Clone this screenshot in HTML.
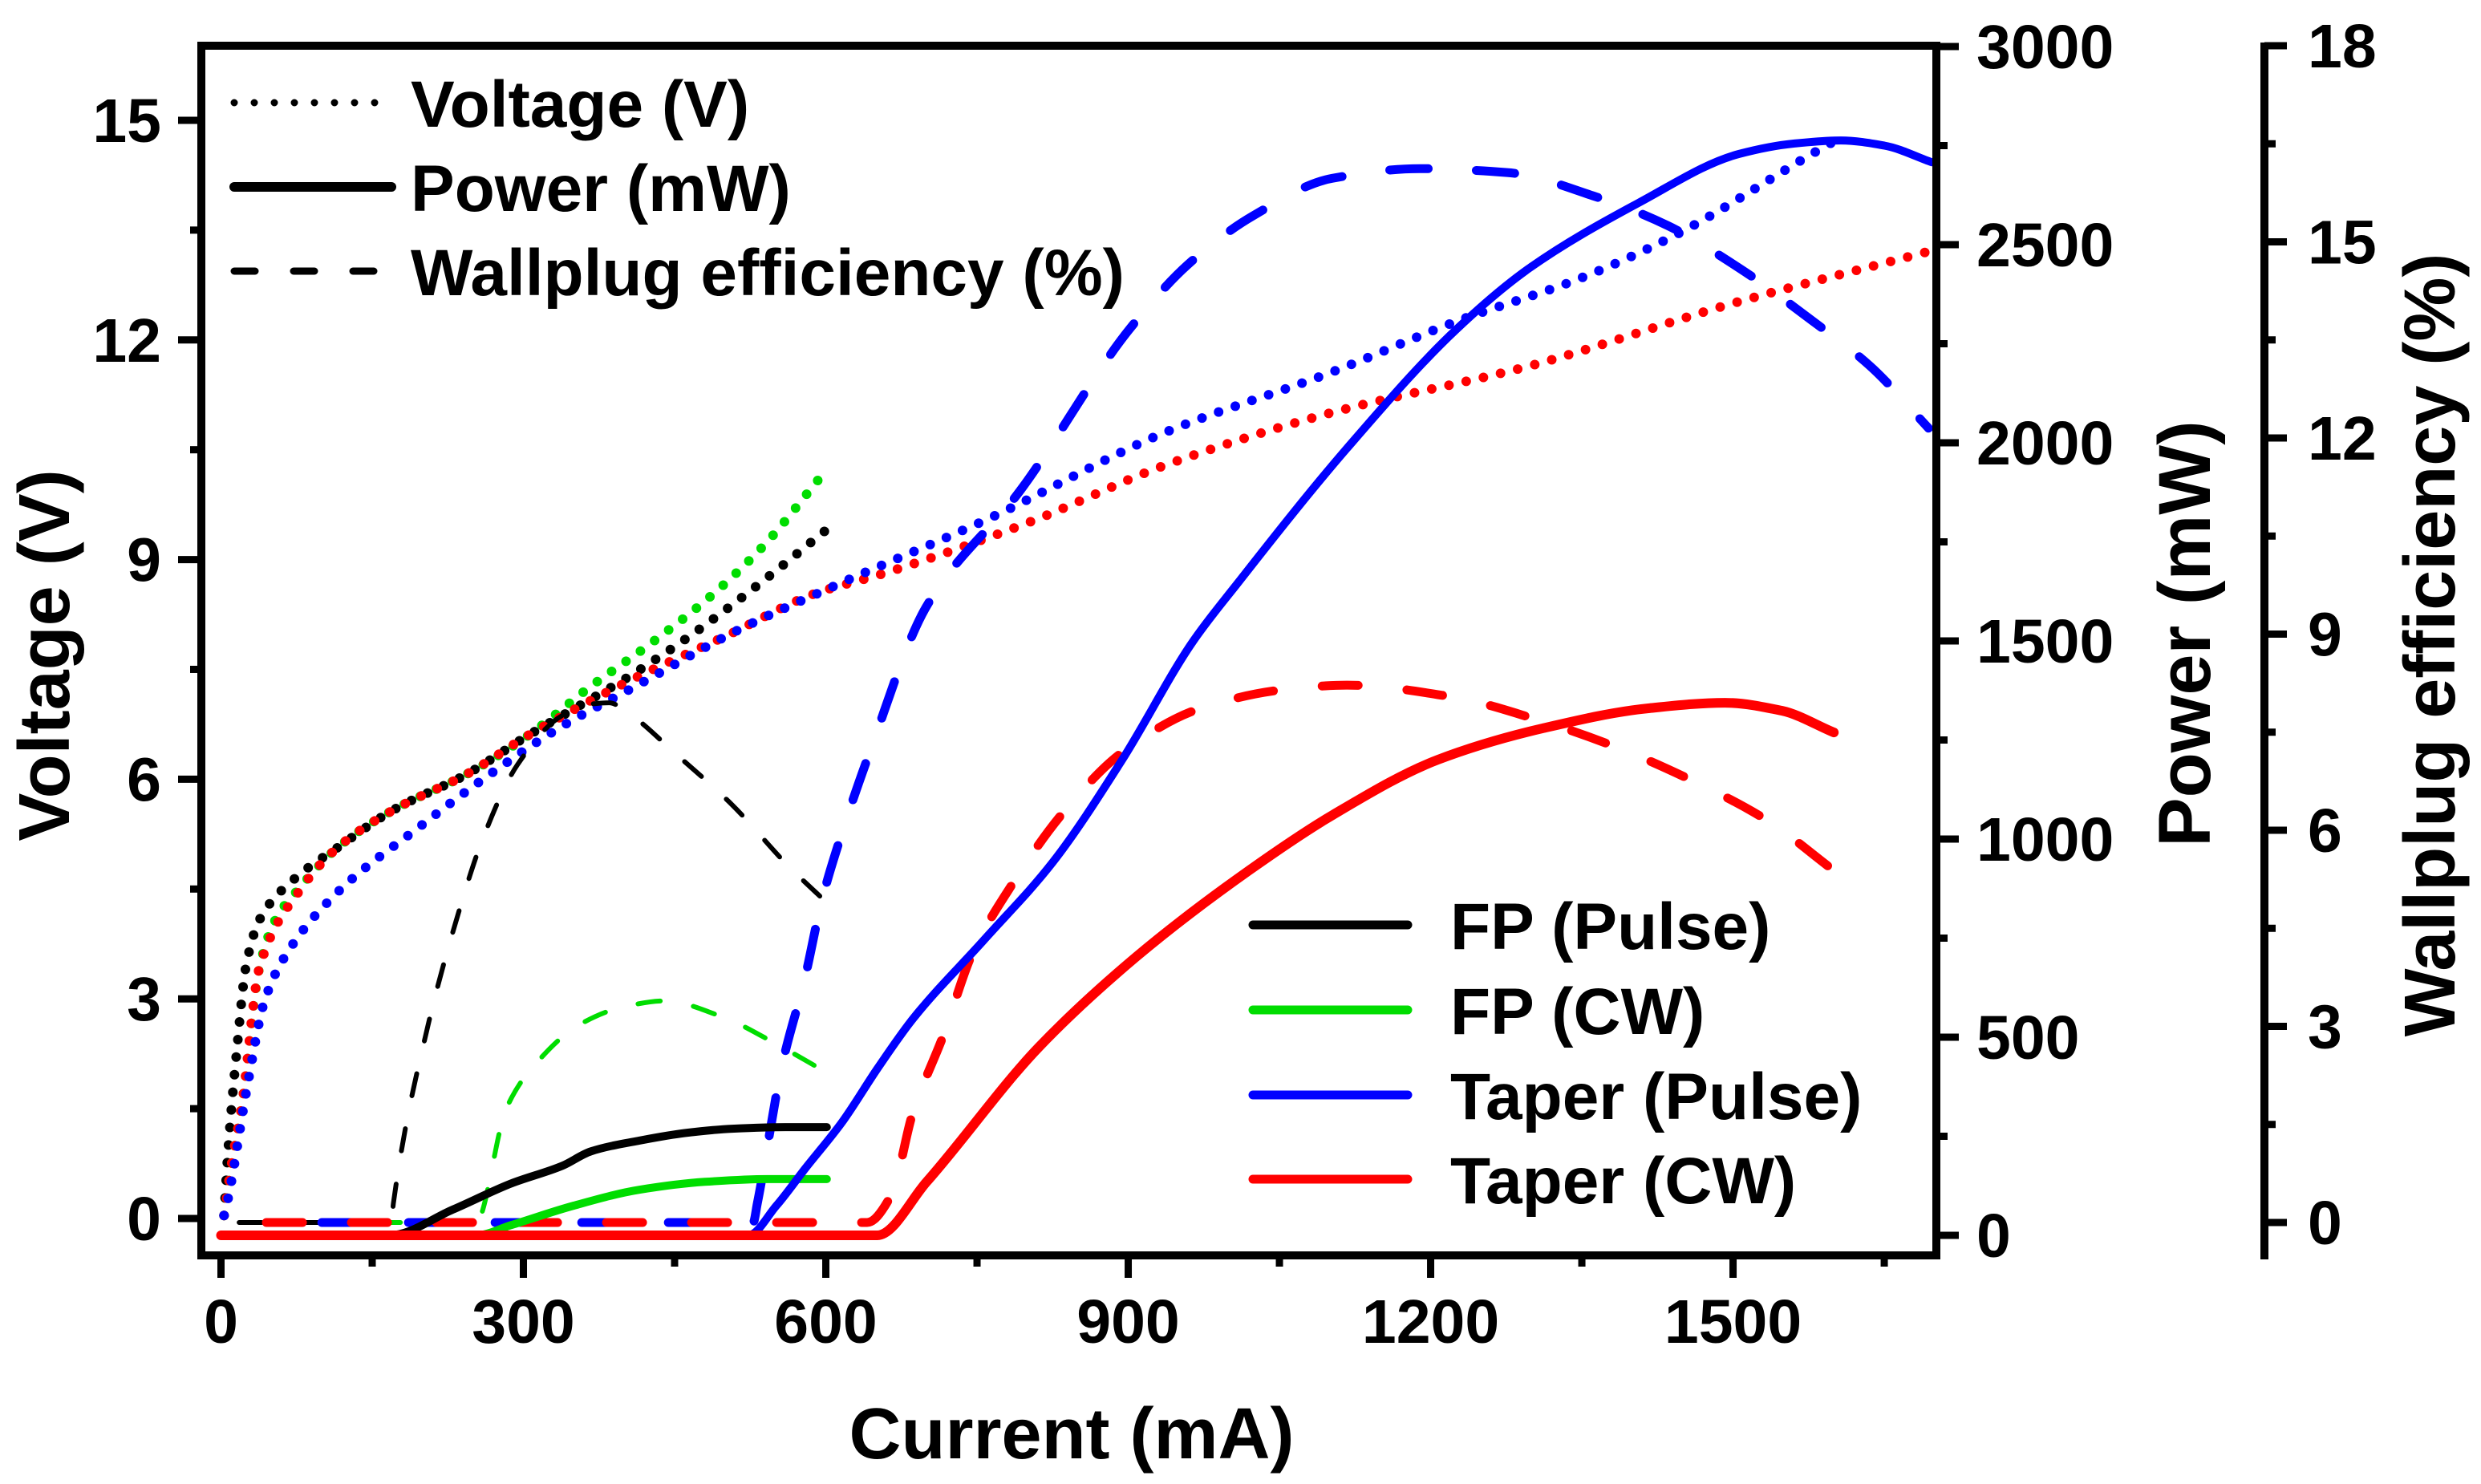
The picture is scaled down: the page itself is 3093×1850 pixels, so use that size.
<!DOCTYPE html>
<html><head><meta charset="utf-8">
<style>
html,body{margin:0;padding:0;background:#fff;}
svg{display:block;}
text{font-family:"Liberation Sans",Arial,sans-serif;font-weight:bold;fill:#000;}
</style></head>
<body>
<svg id="chart" width="3093" height="1850" viewBox="0 0 3093 1850" xmlns="http://www.w3.org/2000/svg">
<g id="series"></g>
<g id="axes"></g>
<g id="legends"></g>
</svg>
<script>
// ---- data (current in mA) ----
const xTicks = [0, 300, 600, 900, 1200, 1500];
const vTicks = [0, 3, 6, 9, 12, 15];
const pTicks = [0, 500, 1000, 1500, 2000, 2500, 3000];
const wTicks = [0, 3, 6, 9, 12, 15, 18];

// Voltage (V)
const vFpPulseI = [3, 7, 15.5, 25, 39, 73, 116, 171, 244, 305, 350, 395, 451, 507, 548, 600];
const vFpPulseV = [0.04, 0.92, 2.27, 3.46, 4.1, 4.64, 5.07, 5.58, 6.07, 6.6, 6.96, 7.32, 7.82, 8.38, 8.82, 9.4];
const vFpCwI = [3, 10, 21, 38, 54, 77, 116, 171, 244, 305, 367, 423, 490, 539, 595];
const vFpCwV = [0.04, 0.7, 1.58, 3.42, 4.08, 4.5, 5.07, 5.58, 6.07, 6.6, 7.27, 7.82, 8.55, 9.2, 10.13];
const vTaperCwI = [3, 10, 21, 38, 77, 116, 171, 244, 305, 406, 500, 590, 655, 800, 937, 1100, 1297, 1500, 1692];
const vTaperCwV = [0.04, 0.7, 1.58, 3.42, 4.46, 5.07, 5.58, 6.07, 6.6, 7.35, 7.95, 8.54, 8.8, 9.5, 10.29, 11.0, 11.64, 12.5, 13.2];
const vTaperPulseI = [3, 7, 26, 43, 63, 116, 197, 264, 339, 410, 512, 607, 760, 937, 1100, 1225, 1350, 1441, 1582, 1605];
const vTaperPulseV = [0.04, 0.27, 1.8, 2.96, 3.57, 4.46, 5.35, 6.04, 6.73, 7.26, 8.03, 8.63, 9.55, 10.74, 11.55, 12.25, 12.85, 13.42, 14.57, 14.75];

// Power (mW)
const pFpPulseI = [0, 167, 230, 288, 339, 367, 415, 460, 507, 560, 601];
const pFpPulseP = [0, 0, 65, 131, 176, 212, 239, 258, 269, 273, 273];
const pFpCwI = [0, 253, 288, 350, 415, 480, 542, 601];
const pFpCwP = [0, 0, 26, 75, 115, 135, 142, 142];
const pTaperPulseI = [0, 523, 551, 580, 616, 651, 686, 756, 825, 894, 964, 1008, 1117, 1225, 1297, 1406, 1506, 1560, 1607, 1650, 1697];
const pTaperPulseP = [0, 0, 75, 170, 285, 420, 545, 743, 941, 1200, 1498, 1644, 1986, 2285, 2439, 2605, 2729, 2755, 2763, 2750, 2708];
const pTaperCwI = [0, 651, 700, 811, 908, 1020, 1103, 1207, 1312, 1416, 1492, 1548, 1600];
const pTaperCwP = [0, 0, 135, 474, 703, 921, 1061, 1200, 1280, 1330, 1344, 1324, 1269];

// Wallplug efficiency (%)
const wFpPulseI = [18, 169, 171, 205, 233, 258, 294, 339, 367, 385, 406, 451, 507, 563, 599];
const wFpPulseW = [0, 0, 0.29, 2.99, 4.6, 5.8, 7.0, 7.76, 7.93, 7.95, 7.77, 7.17, 6.39, 5.45, 4.92];
const wFpCwI = [100, 255, 258, 283, 317, 356, 395, 440, 495, 551, 599];
const wFpCwW = [0, 0, 0.11, 1.74, 2.51, 3.03, 3.28, 3.39, 3.16, 2.73, 2.31];
const wTaperPulseI = [100, 528, 532, 557, 579, 596, 618, 643, 699, 793, 901, 959, 1024, 1102, 1189, 1276, 1362, 1435, 1506, 1578, 1636, 1694];
const wTaperPulseW = [0, 0, 0.29, 2.43, 3.72, 4.92, 6.05, 7.17, 9.4, 11.2, 13.66, 14.65, 15.4, 15.97, 16.12, 16.06, 15.7, 15.25, 14.6, 13.8, 13.1, 12.15];
const wTaperCwI = [45, 641, 665, 686, 717, 745, 786, 835, 894, 971, 1054, 1117, 1221, 1304, 1381, 1458, 1534, 1597];
const wTaperCwW = [0, 0, 0.42, 1.66, 2.88, 4.1, 5.2, 6.26, 7.19, 7.86, 8.15, 8.22, 8.04, 7.7, 7.29, 6.77, 6.15, 5.42];

// ---- scales ----
const NS = "http://www.w3.org/2000/svg";
function xs(i){ return 275.5 + 1.2567 * i; }
function yV(v){ return 1519 - 91.27 * v; }
function yP(p){ return 1540 - 0.494 * p; }
function yW(w){ return 1524 - 81.5 * w; }

const seriesG = document.getElementById('series');
const axesG = document.getElementById('axes');
const legG = document.getElementById('legends');

function mk(tag, attrs, parent){
  const el = document.createElementNS(NS, tag);
  for (const k in attrs) el.setAttribute(k, attrs[k]);
  parent.appendChild(el);
  return el;
}
// Monotone cubic (Fritsch-Carlson) path, no overshoot
function pathD(xsArr, ysArr, yf){
  const X = xsArr.map(xs), Y = ysArr.map(yf), n = X.length;
  const d = [], m = new Array(n);
  for (let k = 0; k < n - 1; k++) d.push((Y[k + 1] - Y[k]) / (X[k + 1] - X[k]));
  m[0] = d[0]; m[n - 1] = d[n - 2];
  for (let k = 1; k < n - 1; k++){
    if (d[k - 1] * d[k] <= 0) m[k] = 0;
    else {
      const h0 = X[k] - X[k - 1], h1 = X[k + 1] - X[k];
      const w1 = 2 * h1 + h0, w2 = h1 + 2 * h0;
      m[k] = (w1 + w2) / (w1 / d[k - 1] + w2 / d[k]);
    }
  }
  let s = 'M' + X[0].toFixed(1) + ' ' + Y[0].toFixed(1);
  for (let k = 0; k < n - 1; k++){
    const h = (X[k + 1] - X[k]) / 3;
    s += 'C' + (X[k] + h).toFixed(1) + ' ' + (Y[k] + m[k] * h).toFixed(1) + ' ' +
         (X[k + 1] - h).toFixed(1) + ' ' + (Y[k + 1] - m[k + 1] * h).toFixed(1) + ' ' +
         X[k + 1].toFixed(1) + ' ' + Y[k + 1].toFixed(1);
  }
  return s;
}
function line(name, xsArr, ysArr, yf, color, width, dash){
  const p = mk('path', {d: pathD(xsArr, ysArr, yf), fill: 'none', stroke: color, 'stroke-width': width, 'stroke-linecap': 'round', 'stroke-linejoin': 'round'}, seriesG);
  if (dash) p.setAttribute('stroke-dasharray', dash);
  
  
}
const BLK = '#000', GRN = '#00dd00', BLU = '#0000ff', RED = '#ff0000';
const DOT = '0 22';
// voltages
line('voltage-fp-pulse', vFpPulseI, vFpPulseV, yV, BLK, 12, DOT);
line('voltage-fp-cw', vFpCwI, vFpCwV, yV, GRN, 12, DOT);
line('voltage-taper-cw', vTaperCwI, vTaperCwV, yV, RED, 12, DOT);
line('voltage-taper-pulse', vTaperPulseI, vTaperPulseV, yV, BLU, 12, DOT);
// wallplug
line('wallplug-fp-pulse', wFpPulseI, wFpPulseW, yW, BLK, 6, '28 42');
line('wallplug-fp-cw', wFpCwI, wFpCwW, yW, GRN, 6, '28 42');
line('wallplug-taper-pulse', wTaperPulseI, wTaperPulseW, yW, BLU, 11, '48 60');
line('wallplug-taper-cw', wTaperCwI, wTaperCwW, yW, RED, 11, '45 61');
// power
line('power-fp-pulse', pFpPulseI, pFpPulseP, yP, BLK, 10, null);
line('power-fp-cw', pFpCwI, pFpCwP, yP, GRN, 10, null);
line('power-taper-pulse', pTaperPulseI, pTaperPulseP, yP, BLU, 10, null);
line('power-taper-cw', pTaperCwI, pTaperCwP, yP, RED, 12, null);

// ---- axes ----
const L = 251, R = 2414, T = 57, B = 1565;
const frame = mk('rect', {x: L, y: T, width: R - L, height: B - T, fill: 'none', stroke: '#000', 'stroke-width': 10}, axesG);


function tick(x1, y1, x2, y2, name){
  const t = mk('line', {x1: x1, y1: y1, x2: x2, y2: y2, stroke: '#000', 'stroke-width': 9}, axesG);
  
  
}
function label(x, y, txt, anchor, size, name, rot){
  const t = mk('text', {x: x, y: y, 'text-anchor': anchor, 'font-size': size}, axesG);
  if (rot) t.setAttribute('transform', rot);
  t.textContent = txt;
  
  
  return t;
}
// x axis
for (let k = 0; k < xTicks.length; k++){
  const x = xs(xTicks[k]);
  tick(x, B, x, B + 28, 'x-tick');
  label(x, 1674, String(xTicks[k]), 'middle', 77, 'x-tick-label');
  const xm = xs(xTicks[k] + 150);
  if (xm < R) tick(xm, B, xm, B + 14, 'x-minor-tick');
}
// voltage axis
for (let k = 0; k < vTicks.length; k++){
  const y = yV(vTicks[k]);
  tick(L, y, L - 29, y, 'voltage-tick');
  label(201, y + 27, String(vTicks[k]), 'end', 77, 'voltage-tick-label');
  const ym = yV(vTicks[k] + 1.5);
  if (ym > T) tick(L, ym, L - 14, ym, 'voltage-minor-tick');
}
// power axis
for (let k = 0; k < pTicks.length; k++){
  const y = yP(pTicks[k]);
  tick(R, y, R + 28, y, 'power-tick');
  label(2464, y + 27, String(pTicks[k]), 'start', 77, 'power-tick-label');
  if (k < pTicks.length - 1){ const ym = yP(pTicks[k] + 250); tick(R, ym, R + 14, ym, 'power-minor-tick'); }
}
// wallplug axis
const WX = 2823;
const wl = mk('line', {x1: WX, y1: 53, x2: WX, y2: 1570, stroke: '#000', 'stroke-width': 10}, axesG);


for (let k = 0; k < wTicks.length; k++){
  const y = yW(wTicks[k]);
  tick(WX, y, WX + 28, y, 'wallplug-tick');
  label(2877, y + 27, String(wTicks[k]), 'start', 77, 'wallplug-tick-label');
  if (k < wTicks.length - 1){ const ym = yW(wTicks[k] + 1.5); tick(WX, ym, WX + 14, ym, 'wallplug-minor-tick'); }
}
// titles
label(1336, 1818, 'Current (mA)', 'middle', 90, 'x-axis-title');
label(86, 817, 'Voltage (V)', 'middle', 90, 'voltage-axis-title', 'rotate(-90 86 817)');
label(2755, 790, 'Power (mW)', 'middle', 92, 'power-axis-title', 'rotate(-90 2755 790)');
label(3060, 804, 'Wallplug efficiency (%)', 'middle', 90, 'wallplug-axis-title', 'rotate(-90 3060 804)');

// ---- legends ----
function legEntry(y, color, width, dash, txt, x1, x2, tx, name){
  const g = mk('g', {}, legG);
  
  
  const l = mk('line', {x1: x1, y1: y, x2: x2, y2: y, stroke: color, 'stroke-width': width, 'stroke-linecap': 'round'}, g);
  if (dash) l.setAttribute('stroke-dasharray', dash);
  
  
  const t = mk('text', {x: tx, y: y + 30, 'font-size': 82}, g);
  t.textContent = txt;
  
  
}
legEntry(128, BLK, 9, '0 25', 'Voltage (V)', 292, 488, 512, 'legend-voltage');
legEntry(233, BLK, 12, null, 'Power (mW)', 292, 488, 512, 'legend-power');
legEntry(338, BLK, 9, '26 48', 'Wallplug efficiency (%)', 292, 488, 512, 'legend-wallplug');
legEntry(1153, BLK, 11, null, 'FP (Pulse)', 1562, 1755, 1808, 'legend-fp-pulse');
legEntry(1259, GRN, 11, null, 'FP (CW)', 1562, 1755, 1808, 'legend-fp-cw');
legEntry(1365, BLU, 11, null, 'Taper (Pulse)', 1562, 1755, 1808, 'legend-taper-pulse');
legEntry(1470, RED, 11, null, 'Taper (CW)', 1562, 1755, 1808, 'legend-taper-cw');
</script>
</body></html>
